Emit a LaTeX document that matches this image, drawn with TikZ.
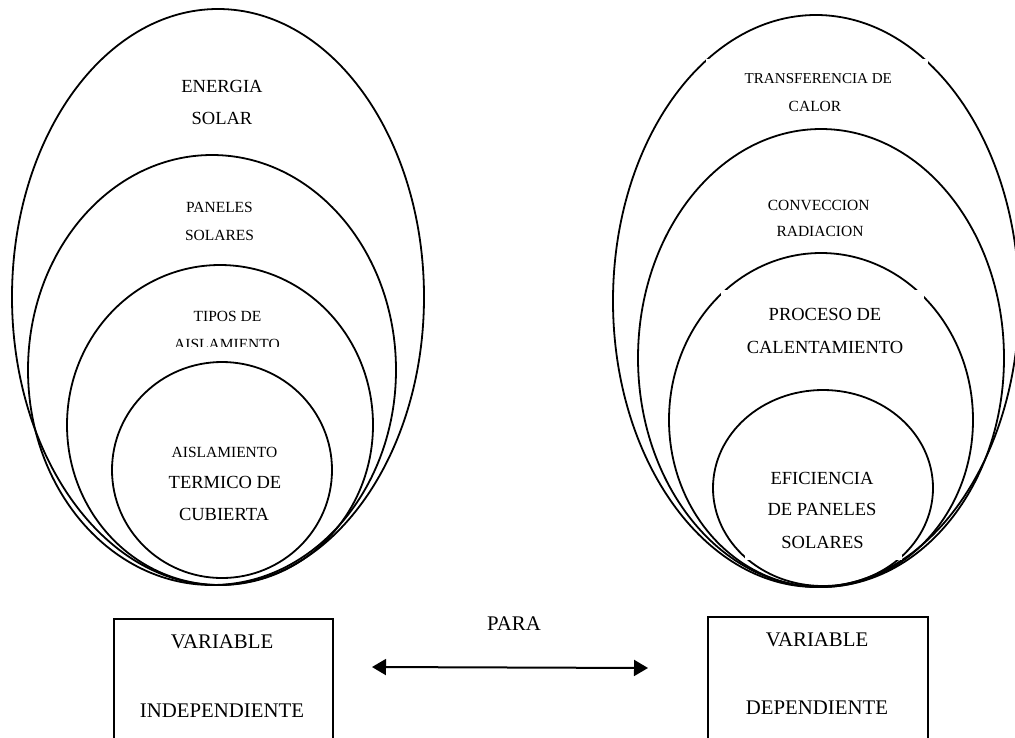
\documentclass[tikz,border=0pt]{standalone}
\usepackage{fontspec}
\setmainfont{Liberation Serif}
\usetikzlibrary{arrows.meta}
\begin{document}
\begin{tikzpicture}[x=1pt,y=-1pt,
  ell/.style={line width=1.8pt},
  sm/.style={anchor=base, inner sep=0, font=\fontsize{15.5}{18}\selectfont},
  md/.style={anchor=base, inner sep=0, font=\fontsize{18.5}{22}\selectfont},
  lg/.style={anchor=base, inner sep=0, font=\fontsize{20.8}{25}\selectfont},
  mask/.style={fill=white, draw=white, line width=3pt, inner sep=0},
  varbox/.style={draw, line width=1.7pt, inner sep=0, anchor=north west, minimum width=219, minimum height=140},
  dblarrow/.style={{Triangle[length=14pt,width=16pt]}-{Triangle[length=14pt,width=16pt]}, line width=2pt}]
\useasboundingbox (0,0) rectangle (1015,737);
\clip (0,0) rectangle (1015,737);
% left nested ellipses
\draw[ell] (218,297) ellipse [x radius=206, y radius=288];
\draw[ell] (212,370) ellipse [x radius=184, y radius=215];
\draw[ell] (220,425) ellipse [x radius=153, y radius=160];
\draw[ell] (222,470) ellipse [x radius=110, y radius=108];
% right nested ellipses
\draw[ell] (816,301) ellipse [x radius=203, y radius=286];
\draw[ell] (821,358) ellipse [x radius=183, y radius=229];
\draw[ell] (821,420) ellipse [x radius=152, y radius=167];
\draw[ell] (823,488) ellipse [x radius=110, y radius=98];
% white text boxes (right side)
\node[mask, minimum width=219, minimum height=65] (m1) at (816.5,92.5) {};
\node[mask, minimum width=200, minimum height=79] (m2) at (822,330.5) {};
\node[mask, minimum width=154, minimum height=96] (m3) at (823,510) {};
% left texts
\node[md] (t1a) at (222,92.7) {ENERGIA};
\node[md] (t1b) at (222,124) {SOLAR};
\node[sm] (t2a) at (219.5,212.7) {PANELES};
\node[sm] (t2b) at (219.5,240.7) {SOLARES};
\node[sm] (t3a) at (227.5,321.7) {TIPOS DE};
\begin{scope}
\clip (100,300) rectangle (360,346.8);
\node[sm] (t3b) at (227,349.6) {AISLAMIENTO};
\end{scope}
\node[sm] (t4a) at (224.5,457.7) {AISLAMIENTO};
\node[md] (t4b) at (225,488.3) {TERMICO DE};
\node[md] (t4c) at (224,520) {CUBIERTA};
% right texts
\node[sm, font=\fontsize{15.1}{18}\selectfont] (r1a) at (818.3,83.3) {TRANSFERENCIA DE};
\node[sm] (r1b) at (815,111.7) {CALOR};
\node[sm] (r2a) at (818.7,210) {CONVECCION};
\node[sm] (r2b) at (820,236.7) {RADIACION};
\node[md] (r3a) at (825,320.7) {PROCESO DE};
\node[md] (r3b) at (825,353.3) {CALENTAMIENTO};
\node[md] (r4a) at (822,484) {EFICIENCIA};
\node[md] (r4b) at (822,515.7) {DE PANELES};
\node[md] (r4c) at (822.5,548.3) {SOLARES};
% bottom boxes
\node[varbox] (vi) at (113,618) {};
\node[varbox, minimum width=220] (vd) at (707,616) {};
\node[lg] (v1a) at (222,648.3) {VARIABLE};
\node[lg] (v1b) at (222,717.3) {INDEPENDIENTE};
\node[lg] (v2a) at (817,646.7) {VARIABLE};
\node[lg] (v2b) at (817,714.3) {DEPENDIENTE};
\node[lg] (para) at (514,630.7) {PARA};
% double arrow
\coordinate (aL) at (372,667);
\coordinate (aR) at (648,668);
\draw[dblarrow] (aL) -- (aR);
\end{tikzpicture}
\end{document}
